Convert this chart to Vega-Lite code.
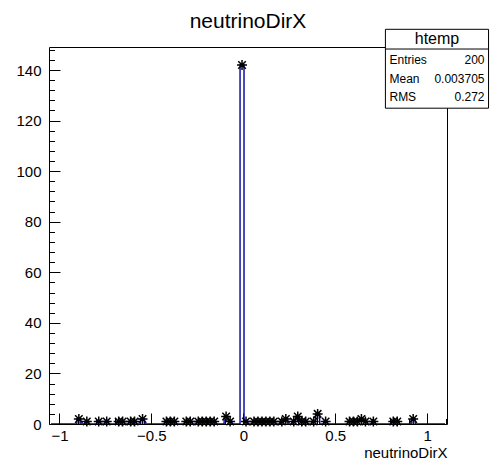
{
  "$schema": "https://vega.github.io/schema/vega-lite/v6.json",
  "width": 398,
  "height": 377,
  "autosize": {"type": "none"},
  "padding": {"left": 49, "top": 47, "right": 49, "bottom": 48},
  "background": "white",
  "title": {"text": "neutrinoDirX", "font": "Liberation Sans", "fontSize": 21, "fontWeight": "normal", "color": "black", "anchor": "middle", "offset": -3},
  "config": {
    "view": {"stroke": "black", "strokeWidth": 1},
    "axis": {"labelFont": "Liberation Sans", "titleFont": "Liberation Sans", "labelColor": "black", "titleColor": "black", "domain": false, "grid": false, "tickColor": "black"}
  },
  "datasets": {
    "hist": [
      {"x": -1.0462, "n": 0}, {"x": -1.0245, "n": 0}, {"x": -1.0029, "n": 0}, {"x": -0.9812, "n": 0}, {"x": -0.9596, "n": 0},
      {"x": -0.9379, "n": 0}, {"x": -0.9163, "n": 0}, {"x": -0.8946, "n": 2}, {"x": -0.8730, "n": 0}, {"x": -0.8513, "n": 1},
      {"x": -0.8297, "n": 0}, {"x": -0.8080, "n": 0}, {"x": -0.7864, "n": 1}, {"x": -0.7647, "n": 0}, {"x": -0.7431, "n": 1},
      {"x": -0.7214, "n": 0}, {"x": -0.6998, "n": 0}, {"x": -0.6781, "n": 1}, {"x": -0.6565, "n": 1}, {"x": -0.6348, "n": 0},
      {"x": -0.6132, "n": 1}, {"x": -0.5915, "n": 1}, {"x": -0.5699, "n": 0}, {"x": -0.5482, "n": 2}, {"x": -0.5266, "n": 0},
      {"x": -0.5049, "n": 0}, {"x": -0.4833, "n": 0}, {"x": -0.4616, "n": 0}, {"x": -0.4400, "n": 0}, {"x": -0.4183, "n": 1},
      {"x": -0.3967, "n": 1}, {"x": -0.3750, "n": 1}, {"x": -0.3534, "n": 0}, {"x": -0.3317, "n": 0}, {"x": -0.3101, "n": 1},
      {"x": -0.2884, "n": 1}, {"x": -0.2668, "n": 0}, {"x": -0.2451, "n": 1}, {"x": -0.2235, "n": 1}, {"x": -0.2018, "n": 1},
      {"x": -0.1802, "n": 1}, {"x": -0.1585, "n": 1}, {"x": -0.1369, "n": 0}, {"x": -0.1152, "n": 0}, {"x": -0.0936, "n": 3},
      {"x": -0.0719, "n": 1}, {"x": -0.0503, "n": 0}, {"x": -0.0286, "n": 0}, {"x": -0.0070, "n": 142}, {"x": 0.0147, "n": 1},
      {"x": 0.0363, "n": 0}, {"x": 0.0580, "n": 1}, {"x": 0.0796, "n": 1}, {"x": 0.1013, "n": 1}, {"x": 0.1229, "n": 1},
      {"x": 0.1446, "n": 1}, {"x": 0.1662, "n": 1}, {"x": 0.1879, "n": 0}, {"x": 0.2095, "n": 1}, {"x": 0.2312, "n": 2},
      {"x": 0.2528, "n": 0}, {"x": 0.2745, "n": 1}, {"x": 0.2961, "n": 3}, {"x": 0.3178, "n": 1}, {"x": 0.3394, "n": 1},
      {"x": 0.3611, "n": 0}, {"x": 0.3827, "n": 1}, {"x": 0.4044, "n": 4}, {"x": 0.4260, "n": 0}, {"x": 0.4477, "n": 1},
      {"x": 0.4693, "n": 0}, {"x": 0.4910, "n": 0}, {"x": 0.5126, "n": 0}, {"x": 0.5343, "n": 0}, {"x": 0.5559, "n": 0},
      {"x": 0.5776, "n": 1}, {"x": 0.5992, "n": 1}, {"x": 0.6209, "n": 1}, {"x": 0.6425, "n": 2}, {"x": 0.6642, "n": 1},
      {"x": 0.6858, "n": 0}, {"x": 0.7075, "n": 1}, {"x": 0.7291, "n": 0}, {"x": 0.7508, "n": 0}, {"x": 0.7724, "n": 0},
      {"x": 0.7941, "n": 0}, {"x": 0.8157, "n": 1}, {"x": 0.8374, "n": 1}, {"x": 0.8590, "n": 0}, {"x": 0.8807, "n": 0},
      {"x": 0.9023, "n": 0}, {"x": 0.9240, "n": 2}, {"x": 0.9456, "n": 0}, {"x": 0.9673, "n": 0}, {"x": 0.9889, "n": 0},
      {"x": 1.0106, "n": 0}, {"x": 1.0322, "n": 0}, {"x": 1.0539, "n": 0}, {"x": 1.0755, "n": 0}, {"x": 1.0972, "n": 0}
    ],
    "box": [{"x0": 0.773, "x1": 1.334, "y0": 124.9, "y1": 156.1, "ysep": 148.3}],
    "stats": [
      {"label": "Entries", "value": "200", "y": 144.0},
      {"label": "Mean", "value": "0.003705", "y": 136.6},
      {"label": "RMS", "value": "0.272", "y": 129.2}
    ],
    "head": [{"t": "htemp", "x": 1.0535, "y": 152.2}]
  },
  "resolve": {"axis": {"x": "independent", "y": "independent"}},
  "layer": [
    {
      "data": {"name": "hist"},
      "mark": {"type": "line", "interpolate": "step", "color": "#00009c", "strokeWidth": 1.4, "clip": true},
      "encoding": {
        "x": {"field": "x", "type": "quantitative", "scale": {"domain": [-1.057, 1.108], "nice": false, "zero": false},
          "axis": {"orient": "bottom", "values": [-1, -0.5, 0, 0.5, 1], "format": "~g", "tickSize": -11, "labelPadding": 15, "labelFontSize": 15,
            "title": "neutrinoDirX", "titleFontSize": 15, "titleFontWeight": "normal", "titleAnchor": "end", "titlePadding": 2}},
        "y": {"field": "n", "type": "quantitative", "scale": {"domain": [0, 149.1], "nice": false},
          "axis": {"orient": "left", "values": [0, 20, 40, 60, 80, 100, 120, 140], "tickSize": -11, "labelPadding": 19, "labelFontSize": 15, "title": null}}
      }
    },
    {
      "data": {"name": "hist"},
      "transform": [{"filter": "datum.n > 0"}],
      "mark": {"type": "point", "shape": "M-1,0L1,0M0,-1L0,1M-0.75,-0.75L0.75,0.75M-0.75,0.75L0.75,-0.75", "filled": false, "stroke": "black", "strokeWidth": 1.5, "size": 100, "opacity": 1},
      "encoding": {
        "x": {"field": "x", "type": "quantitative",
          "axis": {"orient": "bottom", "values": [-1.0, -0.9, -0.8, -0.7, -0.6, -0.4, -0.3, -0.2, -0.1, 0.1, 0.2, 0.3, 0.4, 0.6, 0.7, 0.8, 0.9, 1.1], "labels": false, "tickSize": -5.5, "title": null}},
        "y": {"field": "n", "type": "quantitative",
          "axis": {"orient": "left", "values": [4, 8, 12, 16, 24, 28, 32, 36, 44, 48, 52, 56, 64, 68, 72, 76, 84, 88, 92, 96, 104, 108, 112, 116, 124, 128, 132, 136, 144, 148], "labels": false, "tickSize": -5.5, "title": null}}
      }
    },
    {
      "data": {"name": "box"},
      "mark": {"type": "rect", "fill": "white", "stroke": "black", "strokeWidth": 1},
      "encoding": {
        "x": {"field": "x0", "type": "quantitative", "axis": null},
        "x2": {"field": "x1"},
        "y": {"field": "y0", "type": "quantitative", "axis": null},
        "y2": {"field": "y1"}
      }
    },
    {
      "data": {"name": "box"},
      "mark": {"type": "rule", "color": "black", "strokeWidth": 1},
      "encoding": {
        "x": {"field": "x0", "type": "quantitative", "axis": null},
        "x2": {"field": "x1"},
        "y": {"field": "ysep", "type": "quantitative", "axis": null}
      }
    },
    {
      "data": {"name": "head"},
      "mark": {"type": "text", "font": "Liberation Sans", "fontSize": 16, "align": "center", "baseline": "middle", "color": "black"},
      "encoding": {
        "x": {"field": "x", "type": "quantitative", "axis": null},
        "y": {"field": "y", "type": "quantitative", "axis": null},
        "text": {"field": "t"}
      }
    },
    {
      "data": {"name": "stats"},
      "mark": {"type": "text", "font": "Liberation Sans", "fontSize": 12, "align": "left", "baseline": "middle", "color": "black"},
      "encoding": {
        "x": {"datum": 0.795, "type": "quantitative", "axis": null},
        "y": {"field": "y", "type": "quantitative", "axis": null},
        "text": {"field": "label"}
      }
    },
    {
      "data": {"name": "stats"},
      "mark": {"type": "text", "font": "Liberation Sans", "fontSize": 12, "align": "right", "baseline": "middle", "color": "black"},
      "encoding": {
        "x": {"datum": 1.312, "type": "quantitative", "axis": null},
        "y": {"field": "y", "type": "quantitative", "axis": null},
        "text": {"field": "value"}
      }
    }
  ]
}
